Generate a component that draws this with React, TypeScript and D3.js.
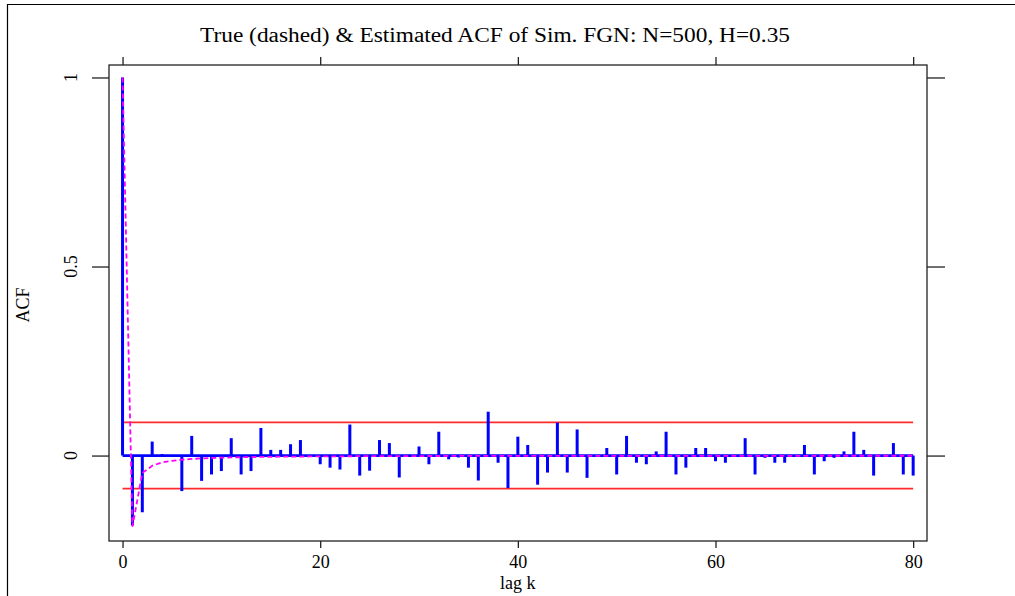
import React, { useRef, useEffect } from 'react';
import * as d3 from 'd3';

// estimated ACF at lags 0..80
const estAcf = [
  1, -0.185, -0.15, 0.037, 0.004, -0.003, -0.094, 0.052, -0.067, -0.05, -0.041,
  0.046, -0.05, -0.041, 0.073, 0.015, 0.015, 0.03, 0.041, 0.0, -0.023,
  -0.032, -0.037, 0.082, -0.053, -0.04, 0.041, 0.033, -0.058, 0.002, 0.024,
  -0.023, 0.063, -0.01, -0.005, -0.032, -0.066, 0.116, -0.019, -0.086, 0.05,
  0.028, -0.077, -0.045, 0.087, -0.045, 0.069, -0.059, 0.0, 0.02, -0.05,
  0.052, -0.019, -0.023, 0.011, 0.063, -0.05, -0.032, 0.02, 0.02, -0.015,
  -0.019, 0.0, 0.046, -0.05, -0.006, -0.019, -0.019, 0.0, 0.028, -0.05,
  -0.015, -0.006, 0.011, 0.063, 0.015, -0.053, 0.0, 0.033, -0.05, -0.053,
];

// true ACF (dashed) at lags 0..80
const trueAcf = [
  1, -0.188, -0.046, -0.027, -0.018, -0.014, -0.011, -0.009, -0.0075, -0.0065, -0.0056,
  -0.005, -0.0045, -0.004, -0.0036, -0.0033, -0.003, -0.0028, -0.0026, -0.0024, -0.0022,
  -0.0021, -0.002, -0.0018, -0.0017, -0.0016, -0.0015, -0.0015, -0.0014, -0.0013, -0.0013,
  -0.0012, -0.0012, -0.0011, -0.0011, -0.001, -0.001, -0.001, -0.0009, -0.0009, -0.0009,
  -0.0008, -0.0008, -0.0008, -0.0008, -0.0008, -0.0008, -0.0008, -0.0008, -0.0008, -0.0008,
  -0.0007, -0.0007, -0.0007, -0.0007, -0.0007, -0.0007, -0.0007, -0.0007, -0.0007, -0.0007,
  -0.0006, -0.0006, -0.0006, -0.0006, -0.0006, -0.0006, -0.0006, -0.0006, -0.0006, -0.0006,
  -0.0005, -0.0005, -0.0005, -0.0005, -0.0005, -0.0005, -0.0005, -0.0005, -0.0005, -0.0005,
];

const confBand = [0.0877, -0.0877];
const xTicks = [0, 20, 40, 60, 80];
const yTicks = [0, 0.5, 1];
const yTickLabels = ['0', '0.5', '1'];

const title = 'True (dashed) & Estimated ACF of Sim. FGN: N=500, H=0.35';

function App() {
  const svgRef = useRef<SVGSVGElement>(null);

  useEffect(() => {
    const svg = d3.select(svgRef.current);
    svg.selectAll('*').remove();

    const W = 1015, H = 596;
    const box = { left: 109, right: 927, top: 65, bottom: 541 };
    const font = '"Liberation Serif", "Times New Roman", serif';

    const x = d3.scaleLinear().domain([-1.37, 81.4]).range([box.left, box.right]);
    const y = d3.scaleLinear().domain([-0.226, 1.033]).range([box.bottom, box.top]);

    svg.append('rect').attr('width', W).attr('height', H).attr('fill', '#fff');

    // outer frame (left + top)
    svg.append('line').attr('x1', 7.5).attr('x2', 7.5).attr('y1', 4).attr('y2', H)
      .attr('stroke', '#000').attr('stroke-width', 1.2);
    svg.append('line').attr('x1', 7).attr('x2', W).attr('y1', 4.5).attr('y2', 4.5)
      .attr('stroke', '#000').attr('stroke-width', 1.2);

    // title
    svg.append('text')
      .attr('x', 495).attr('y', 42)
      .attr('text-anchor', 'middle')
      .attr('font-family', font).attr('font-size', 20)
      .attr('textLength', 590).attr('lengthAdjust', 'spacingAndGlyphs')
      .text(title);

    const lagIdx = estAcf.map((_, i) => i);

    // confidence band lines
    svg.selectAll('.band')
      .data(confBand)
      .enter().append('line')
      .attr('x1', x(0)).attr('x2', x(80))
      .attr('y1', d => y(d)).attr('y2', d => y(d))
      .attr('stroke', '#ff2a2a').attr('stroke-width', 1.7);

    // baseline
    svg.append('line')
      .attr('x1', x(0)).attr('x2', x(80))
      .attr('y1', y(0)).attr('y2', y(0))
      .attr('stroke', '#0000ff').attr('stroke-width', 2.8);

    // estimated ACF spikes
    svg.selectAll('.spike')
      .data(lagIdx)
      .enter().append('line')
      .attr('class', 'spike')
      .attr('x1', d => x(d)).attr('x2', d => x(d))
      .attr('y1', y(0)).attr('y2', d => y(estAcf[d]))
      .attr('stroke', '#0000ff').attr('stroke-width', 3);

    // true ACF, dashed
    const line = d3.line<number>()
      .x(d => x(d))
      .y(d => y(trueAcf[d]));
    svg.append('path')
      .attr('d', line(lagIdx))
      .attr('fill', 'none')
      .attr('stroke', '#ff00ff').attr('stroke-width', 1.8)
      .attr('stroke-dasharray', '5,3');

    // plot box
    svg.append('rect')
      .attr('x', box.left).attr('y', box.top)
      .attr('width', box.right - box.left).attr('height', box.bottom - box.top)
      .attr('fill', 'none').attr('stroke', '#222').attr('stroke-width', 1.3);

    // x axis bottom
    const gx = svg.append('g')
      .attr('transform', `translate(0,${box.bottom})`)
      .call(d3.axisBottom(x).tickValues(xTicks).tickSize(7).tickPadding(7).tickFormat(d3.format('d')));
    gx.select('.domain').remove();
    gx.selectAll('line').attr('stroke', '#222').attr('stroke-width', 1.3);
    gx.selectAll('text').attr('font-family', font).attr('font-size', 18).attr('fill', '#000');

    // x axis top (ticks only)
    const gxt = svg.append('g')
      .attr('transform', `translate(0,${box.top})`)
      .call(d3.axisTop(x).tickValues(xTicks).tickSize(8).tickFormat(() => ''));
    gxt.select('.domain').remove();
    gxt.selectAll('line').attr('stroke', '#222').attr('stroke-width', 1.3);

    // y axis left
    const gy = svg.append('g')
      .attr('transform', `translate(${box.left},0)`)
      .call(d3.axisLeft(y).tickValues(yTicks).tickSize(17).tickFormat(() => ''));
    gy.select('.domain').remove();
    gy.selectAll('line').attr('stroke', '#222').attr('stroke-width', 1.3);

    svg.selectAll('.ylab')
      .data(yTicks)
      .enter().append('text')
      .attr('transform', d => `translate(77,${y(d)}) rotate(-90)`)
      .attr('text-anchor', 'middle')
      .attr('font-family', font).attr('font-size', 18)
      .text((_, i) => yTickLabels[i]);

    // y axis right (ticks only)
    const gyr = svg.append('g')
      .attr('transform', `translate(${box.right},0)`)
      .call(d3.axisRight(y).tickValues(yTicks).tickSize(18).tickFormat(() => ''));
    gyr.select('.domain').remove();
    gyr.selectAll('line').attr('stroke', '#222').attr('stroke-width', 1.3);

    // axis titles
    svg.append('text')
      .attr('x', (x(0) + x(80)) / 2).attr('y', 589)
      .attr('text-anchor', 'middle')
      .attr('font-family', font).attr('font-size', 18)
      .text('lag k');

    svg.append('text')
      .attr('transform', `translate(29,305) rotate(-90)`)
      .attr('text-anchor', 'middle')
      .attr('font-family', font).attr('font-size', 18)
      .text('ACF');
  }, []);

  return (
    <svg
      ref={svgRef}
      width={1015}
      height={596}
      style={{ position: 'absolute', left: 0, top: 0, display: 'block' }}
    />
  );
}

export default App;
